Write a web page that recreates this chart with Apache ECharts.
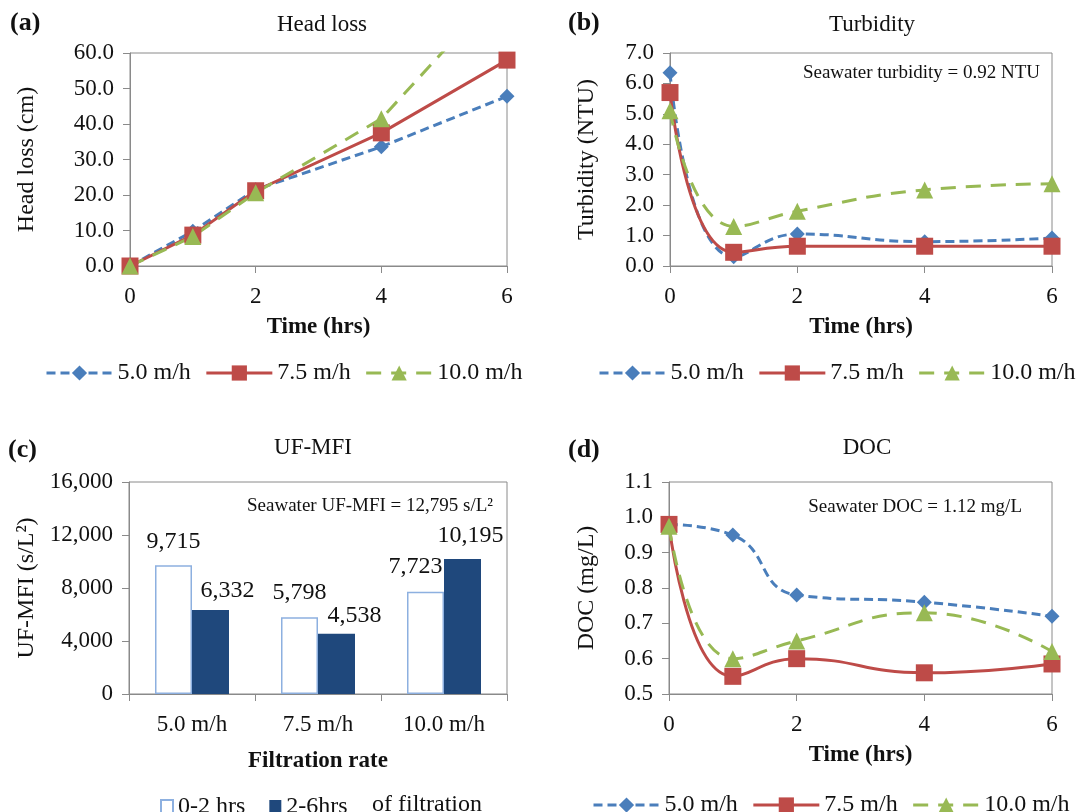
<!DOCTYPE html>
<html>
<head>
<meta charset="utf-8">
<script src="https://cdn.jsdelivr.net/npm/echarts@6/dist/echarts.min.js"></script>
<style>
  html, body { margin: 0; padding: 0; background: #fff; }
  #main { width: 1087px; height: 812px; }
</style>
</head>
<body>
<div id="main"></div>
<script>
// sampling times (hrs)
const hours = [0, 1, 2, 4, 6]
const rateNames = ['5.0 m/h', '7.5 m/h', '10.0 m/h']

// (a) head loss, cm
const headLoss5 = [0, 9.8, 21.5, 33.6, 47.8]
const headLoss75 = [0, 8.7, 21.2, 37.5, 58]
const headLoss10 = [0, 8.3, 20.6, 41.5, 80]

// (b) turbidity, NTU
const turb5 = [6.35, 0.3, 1.05, 0.8, 0.92]
const turb75 = [5.7, 0.45, 0.65, 0.65, 0.65]
const turb10 = [5.1, 1.3, 1.8, 2.5, 2.7]

// (c) UF-MFI, s/L2
const mfiRates = ['5.0 m/h', '7.5 m/h', '10.0 m/h']
const mfi0to2 = [9715, 5798, 7723]
const mfi2to6 = [6332, 4538, 10195]

// (d) DOC, mg/L
const doc5 = [0.98, 0.95, 0.78, 0.76, 0.72]
const doc75 = [0.98, 0.55, 0.60, 0.56, 0.585]
const doc10 = [0.975, 0.60, 0.65, 0.73, 0.62]

const FONT = '"Liberation Serif", "Times New Roman", serif'
const BLUE = '#4A7EBB'
const RED = '#BE4B48'
const GREEN = '#98B954'
const NAVY = '#1F487C'
const AXIS = '#8a8a8a'

const pairs = (vals) => vals.map((v, i) => [hours[i], v])

const lineStyles = [
  { color: BLUE, type: [9, 5], symbol: 'diamond', size: 15 },
  { color: RED, type: 'solid', symbol: 'rect', size: 17 },
  { color: GREEN, type: [15, 10], symbol: 'triangle', size: 17 }
]

function lineSeries (sets, idx, smooth) {
  return sets.map((vals, k) => ({
    name: rateNames[k],
    type: 'line',
    xAxisIndex: idx,
    yAxisIndex: idx,
    smooth: smooth,
    symbol: lineStyles[k].symbol,
    symbolSize: lineStyles[k].size,
    data: pairs(vals),
    itemStyle: { color: lineStyles[k].color },
    lineStyle: { color: lineStyles[k].color, width: 3, type: lineStyles[k].type }
  }))
}

function timeAxis (idx) {
  return {
    gridIndex: idx,
    type: 'value',
    min: 0,
    max: 6,
    interval: 2,
    name: 'Time (hrs)',
    nameLocation: 'middle',
    nameGap: 50,
    nameTextStyle: { fontSize: 23, color: '#111', fontFamily: FONT, fontWeight: 'bold' },
    axisLine: { onZero: false, lineStyle: { color: AXIS } },
    axisTick: { show: true, length: 7, lineStyle: { color: AXIS } },
    axisLabel: { fontSize: 23, color: '#111', fontFamily: FONT, margin: 19 },
    splitLine: { show: false }
  }
}

function valueAxis (idx, min, max, interval, name, gap, fmt) {
  return {
    gridIndex: idx,
    type: 'value',
    min: min,
    max: max,
    interval: interval,
    name: name,
    nameLocation: 'middle',
    nameGap: gap,
    nameTextStyle: { fontSize: 24, color: '#111', fontFamily: FONT },
    axisLine: { show: true, lineStyle: { color: AXIS } },
    axisTick: { show: true, length: 7, lineStyle: { color: AXIS } },
    axisLabel: { fontSize: 23, color: '#111', fontFamily: FONT, margin: 16, formatter: fmt },
    splitLine: { show: false }
  }
}

const fixed1 = (v) => v.toFixed(1)
const thousands = (v) => v.toLocaleString('en-US')

// manual nudges of the bar value labels, as in the original figure
const openLabelShift = [[0, -7], [0, -7], [-10, -8]]
const solidLabelShift = [[17, -2], [18, -1], [8, -6]]

const barLabel = { show: true, position: 'top', fontSize: 24, color: '#111', fontFamily: FONT, formatter: (p) => thousands(p.value) }

const chart = echarts.init(document.getElementById('main'))

const legendText = { fontSize: 24, color: '#111', fontFamily: FONT }
const lineLegend = { itemWidth: 66, itemHeight: 19, itemGap: 14, textStyle: legendText, lineStyle: { width: 3 }, data: rateNames }

const option = {
  animation: false,
  backgroundColor: '#fff',
  textStyle: { fontFamily: FONT },
  grid: [
    { left: 130, width: 377, top: 53, height: 213, show: true, borderColor: AXIS, borderWidth: 1 },
    { left: 670, width: 382, top: 53, height: 213, show: true, borderColor: AXIS, borderWidth: 1 },
    { left: 129, width: 378, top: 482, height: 212, show: true, borderColor: AXIS, borderWidth: 1 },
    { left: 669, width: 383, top: 482, height: 212, show: true, borderColor: AXIS, borderWidth: 1 }
  ],
  xAxis: [
    timeAxis(0),
    timeAxis(1),
    {
      gridIndex: 2,
      type: 'category',
      data: mfiRates,
      name: 'Filtration rate',
      nameLocation: 'middle',
      nameGap: 56,
      nameTextStyle: { fontSize: 23, color: '#111', fontFamily: FONT, fontWeight: 'bold' },
      axisLine: { lineStyle: { color: AXIS } },
      axisTick: { show: true, length: 7, lineStyle: { color: AXIS } },
      axisLabel: { fontSize: 23, color: '#111', fontFamily: FONT, margin: 19 }
    },
    timeAxis(3)
  ],
  yAxis: [
    valueAxis(0, 0, 60, 10, 'Head loss (cm)', 91, fixed1),
    valueAxis(1, 0, 7, 1, 'Turbidity (NTU)', 71, fixed1),
    valueAxis(2, 0, 16000, 4000, 'UF-MFI (s/L\u00B2)', 90, thousands),
    valueAxis(3, 0.5, 1.1, 0.1, 'DOC (mg/L)', 70, fixed1)
  ],
  legend: [
    Object.assign({ left: 40, top: 356 }, lineLegend),
    Object.assign({ left: 593, top: 356 }, lineLegend),
    { left: 155, top: 790, itemWidth: 12, itemHeight: 14, itemGap: 24, icon: 'rect', textStyle: legendText, data: ['0-2 hrs', '2-6hrs'] },
    Object.assign({ left: 587, top: 788 }, lineLegend)
  ],
  graphic: [
    { type: 'text', left: 10, top: 10, style: { text: '(a)', font: 'bold 26px ' + FONT, fill: '#111' } },
    { type: 'text', left: 568, top: 10, style: { text: '(b)', font: 'bold 26px ' + FONT, fill: '#111' } },
    { type: 'text', left: 8, top: 437, style: { text: '(c)', font: 'bold 26px ' + FONT, fill: '#111' } },
    { type: 'text', left: 568, top: 437, style: { text: '(d)', font: 'bold 26px ' + FONT, fill: '#111' } },
    { type: 'text', x: 322, y: 25, style: { text: 'Head loss', font: '23px ' + FONT, fill: '#111', align: 'center', verticalAlign: 'middle' } },
    { type: 'text', x: 872, y: 25, style: { text: 'Turbidity', font: '23px ' + FONT, fill: '#111', align: 'center', verticalAlign: 'middle' } },
    { type: 'text', x: 313, y: 448, style: { text: 'UF-MFI', font: '23px ' + FONT, fill: '#111', align: 'center', verticalAlign: 'middle' } },
    { type: 'text', x: 867, y: 448, style: { text: 'DOC', font: '23px ' + FONT, fill: '#111', align: 'center', verticalAlign: 'middle' } },
    { type: 'text', x: 1040, y: 73, style: { text: 'Seawater turbidity = 0.92 NTU', font: '19px ' + FONT, fill: '#111', align: 'right', verticalAlign: 'middle' } },
    { type: 'text', x: 493, y: 506, style: { text: 'Seawater UF-MFI = 12,795 s/L\u00B2', font: '19px ' + FONT, fill: '#111', align: 'right', verticalAlign: 'middle' } },
    { type: 'text', x: 1022, y: 507, style: { text: 'Seawater DOC = 1.12 mg/L', font: '19px ' + FONT, fill: '#111', align: 'right', verticalAlign: 'middle' } },
    { type: 'text', x: 372, y: 805, style: { text: 'of filtration', font: '24px ' + FONT, fill: '#111', align: 'left', verticalAlign: 'middle' } }
  ],
  series: [
    ...lineSeries([headLoss5, headLoss75, headLoss10], 0, false),
    ...lineSeries([turb5, turb75, turb10], 1, true),
    {
      name: '0-2 hrs',
      type: 'bar',
      xAxisIndex: 2,
      yAxisIndex: 2,
      barWidth: 37,
      barGap: '0%',
      data: mfi0to2.map((v, i) => ({ value: v, label: { offset: openLabelShift[i] } })),
      itemStyle: { color: '#ffffff', borderColor: '#8DB0E0', borderWidth: 1.5 },
      label: barLabel
    },
    {
      name: '2-6hrs',
      type: 'bar',
      xAxisIndex: 2,
      yAxisIndex: 2,
      barWidth: 37,
      barGap: '0%',
      data: mfi2to6.map((v, i) => ({ value: v, label: { offset: solidLabelShift[i] } })),
      itemStyle: { color: NAVY },
      label: barLabel
    },
    ...lineSeries([doc5, doc75, doc10], 3, true)
  ]
}

chart.setOption(option)
</script>
</body>
</html>
